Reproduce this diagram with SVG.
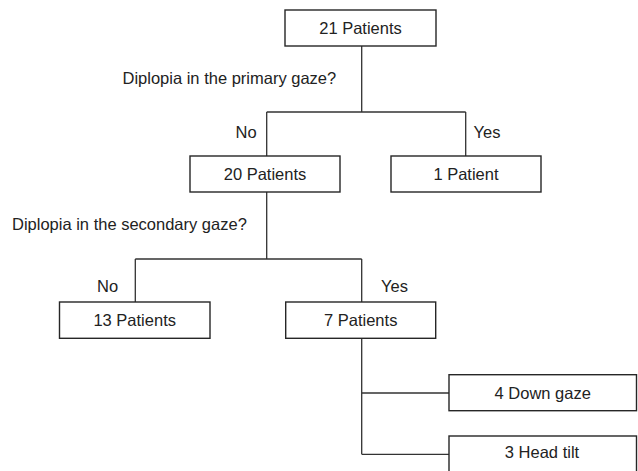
<svg xmlns="http://www.w3.org/2000/svg" width="638" height="471" viewBox="0 0 638 471">
<style>
.box{fill:#fff;stroke:#262626;stroke-width:1.4}
.ln{fill:none;stroke:#333;stroke-width:1.3}
text{font-family:"Liberation Sans",Arial,sans-serif;font-size:16.5px;fill:#222}
.c{text-anchor:middle}
</style>
<rect width="638" height="471" fill="#fff"/>
<g id="connectors">
<path class="ln" d="M361.7 46V112M266.7 112H465.7M266.7 112V156M465.7 112V156"/>
<path class="ln" d="M266.7 192V259M135.3 259H361.7M135.3 259V302M361.7 259V302"/>
<path class="ln" d="M361.7 338V454.3M361.7 393H449M361.7 454.3H449"/>
</g>
<g id="labels">
<text x="122.5" y="83.5">Diplopia in the primary gaze?</text>
<text x="235.5" y="137.5">No</text>
<text x="473.5" y="137.5">Yes</text>
<text x="12" y="229.5">Diplopia in the secondary gaze?</text>
<text x="97" y="291.5">No</text>
<text x="381" y="291.5">Yes</text>
</g>
<g id="n21"><rect class="box" x="285" y="10" width="151" height="36"/><text class="c" x="360.5" y="34.3">21 Patients</text></g>
<g id="n20"><rect class="box" x="190" y="156" width="150" height="36"/><text class="c" x="265" y="180.3">20 Patients</text></g>
<g id="n1"><rect class="box" x="391" y="156" width="150" height="36"/><text class="c" x="466" y="180.3">1 Patient</text></g>
<g id="n13"><rect class="box" x="59.5" y="302" width="150.5" height="36.3"/><text class="c" x="134.7" y="326.3">13 Patients</text></g>
<g id="n7"><rect class="box" x="285.7" y="302" width="150" height="36.3"/><text class="c" x="360.7" y="326.3">7 Patients</text></g>
<g id="n4"><rect class="box" x="449" y="374.7" width="187.5" height="36"/><text class="c" x="542.7" y="399.3">4 Down gaze</text></g>
<g id="n3"><rect class="box" x="449" y="436" width="187.5" height="40"/><text class="c" x="542" y="457.8">3 Head tilt</text></g>
</svg>
